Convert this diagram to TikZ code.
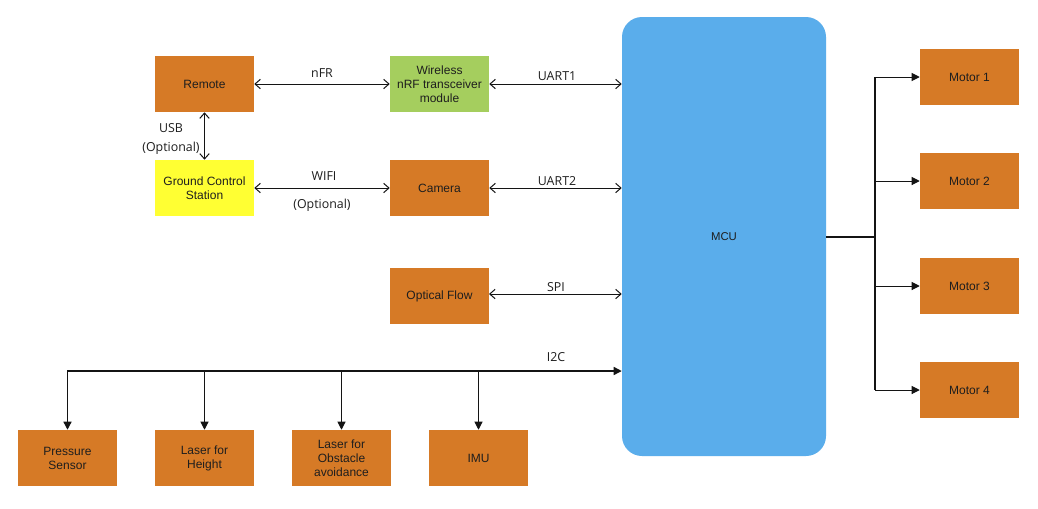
\documentclass[tikz,border=0pt]{standalone}
\usepackage{fontspec}
\setmainfont{Liberation Sans}
\newfontfamily\labfont{Open Sans}
\usetikzlibrary{arrows.meta}
\definecolor{boxor}{RGB}{214,122,38}
\definecolor{boxgr}{RGB}{165,206,94}
\definecolor{boxye}{RGB}{255,255,51}
\definecolor{mcubl}{RGB}{90,173,235}
\definecolor{txt}{RGB}{30,30,30}
\definecolor{lin}{RGB}{20,20,20}
\tikzset{
  blk/.style={rectangle, draw=none, fill=boxor, minimum width=74.25pt, minimum height=42pt, inner sep=0pt, align=center, text=txt, font=\fontsize{9}{10.5}\selectfont},
  lbl/.style={font=\labfont\fontsize{9.3}{11}\selectfont, text=txt, inner sep=1pt},
  bi/.style={draw=lin, line width=0.75pt, {Straight Barb[length=4pt,width=7pt]}-{Straight Barb[length=4pt,width=7pt]}},
  tri/.style={draw=lin, line width=0.9pt, -{Triangle[length=6pt,width=6pt]}},
  plain/.style={draw=lin, line width=0.9pt}
}
\begin{document}
\begin{tikzpicture}[x=0.75pt,y=-0.75pt]
\useasboundingbox (0,0) rectangle (1038,508);
\fill[white] (0,0) rectangle (1038,508);
% nodes
\node[blk] (rem) at (204.5,84) {Remote};
\node[blk, fill=boxgr] (wl) at (439.5,84) {Wireless\\nRF transceiver\\module};
\node[blk, fill=boxye] (gcs) at (204.5,188) {Ground Control\\Station};
\node[blk] (cam) at (439.5,188) {Camera};
\node[blk] (of) at (439.5,296) {Optical Flow};
\node[rectangle, rounded corners=15pt, fill=mcubl, minimum width=153pt, minimum height=329.25pt, inner sep=0pt, font=\fontsize{8.5}{10}\selectfont, text=txt] (mcu) at (724,236.5) {MCU};
\node[blk] (m1) at (969.5,77) {Motor 1};
\node[blk] (m2) at (969.5,181) {Motor 2};
\node[blk] (m3) at (969.5,286) {Motor 3};
\node[blk] (m4) at (969.5,390) {Motor 4};
\node[blk] (ps) at (67.5,458) {Pressure\\Sensor};
\node[blk] (lh) at (204.5,458) {Laser for\\Height};
\node[blk] (lo) at (341.5,458) {Laser for\\Obstacle\\avoidance};
\node[blk] (imu) at (478.5,458) {IMU};
% connectors
\draw[bi] (rem.east) -- (wl.west);
\node[lbl] (nfr) at (322,73) {nFR};
\draw[bi] (wl.east) -- (wl.east -| mcu.west);
\node[lbl] (u1) at (557,76) {UART1};
\draw[bi] (rem.south) -- (gcs.north);
\node[lbl] (usb) at (171,128) {USB};
\node[lbl] (usbo) at (171,148) {(Optional)};
\draw[bi] (gcs.east) -- (cam.west);
\node[lbl] (wifi) at (324,176) {WIFI};
\node[lbl] (wifio) at (322,205) {(Optional)};
\draw[bi] (cam.east) -- (cam.east -| mcu.west);
\node[lbl] (u2) at (557,181) {UART2};
\coordinate (ofc) at (489,294);
\draw[bi] (ofc) -- (ofc -| mcu.west);
\node[lbl] (spi) at (556,287) {SPI};
% I2C bus
\coordinate (i2c) at (67,371);
\draw[plain, line width=1pt, {Triangle[length=6pt,width=6pt]}-{Triangle[length=6pt,width=6pt]}] (ps.north) -- (ps.north |- i2c) -- (i2c -| mcu.west);
\node[lbl] (i2cl) at (556,357) {I2C};
\draw[tri, line width=0.75pt] (lh.north |- i2c) -- (lh.north);
\draw[tri, line width=0.75pt] (lo.north |- i2c) -- (lo.north);
\draw[tri, line width=0.75pt] (imu.north |- i2c) -- (imu.north);
% motor bus
\coordinate (mb) at (875,237);
\draw[plain, line width=1.3pt] (mb -| mcu.east) -- (mb);
\draw[plain] (mb |- m1) -- (mb |- m4);
\draw[tri, line width=0.75pt] (mb |- m1) -- (m1.west);
\draw[tri, line width=0.75pt] (mb |- m2) -- (m2.west);
\draw[tri, line width=0.75pt] (mb |- m3) -- (m3.west);
\draw[tri, line width=0.75pt] (mb |- m4) -- (m4.west);
\end{tikzpicture}
\end{document}
